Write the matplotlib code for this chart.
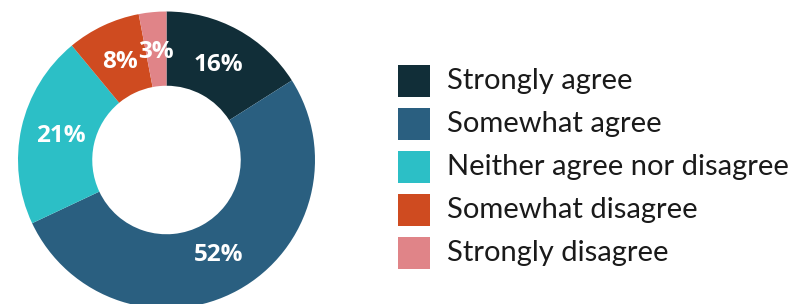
import matplotlib
matplotlib.use("Agg")
import matplotlib.pyplot as plt
from matplotlib.patches import Rectangle

labels = ["Strongly agree", "Somewhat agree", "Neither agree nor disagree",
          "Somewhat disagree", "Strongly disagree"]
values = [16, 52, 21, 8, 3]
colors = ["#112E38", "#2A5F80", "#2CBFC6", "#CF4B20", "#E08488"]

W, H = 794, 304
fig = plt.figure(figsize=(W / 100, H / 100), dpi=100)
fig.patch.set_facecolor("white")

# donut: centre (166.5, 160 from top), radius 148.5 px
R = 148.5
cx, cy = 166.5, H - 160
ax = fig.add_axes([(cx - R) / W, (cy - R) / H, 2 * R / W, 2 * R / H])
wedges, _, autotexts = ax.pie(
    values, colors=colors, startangle=90, counterclock=False, radius=1,
    wedgeprops=dict(width=0.5, linewidth=0),
    autopct=lambda p: f"{p:.0f}%", pctdistance=0.73,
    textprops=dict(color="white", fontsize=17.5, fontweight="bold",
                   family="Open Sans"))
ax.set_xlim(-1, 1)
ax.set_ylim(-1, 1)
ax.axis("off")

# legend drawn in pixel coords
lg = fig.add_axes([0, 0, 1, 1])
lg.set_xlim(0, W)
lg.set_ylim(H, 0)
lg.axis("off")
for i, (lab, c) in enumerate(zip(labels, colors)):
    yc = 81 + i * 43
    lg.add_patch(Rectangle((398, yc - 16), 32, 32, facecolor=c, edgecolor="none"))
    lg.text(447, yc, lab, fontsize=21, color="#1A1A1A", family="Lato",
            ha="left", va="center")

fig.savefig("out.png", dpi=100)
